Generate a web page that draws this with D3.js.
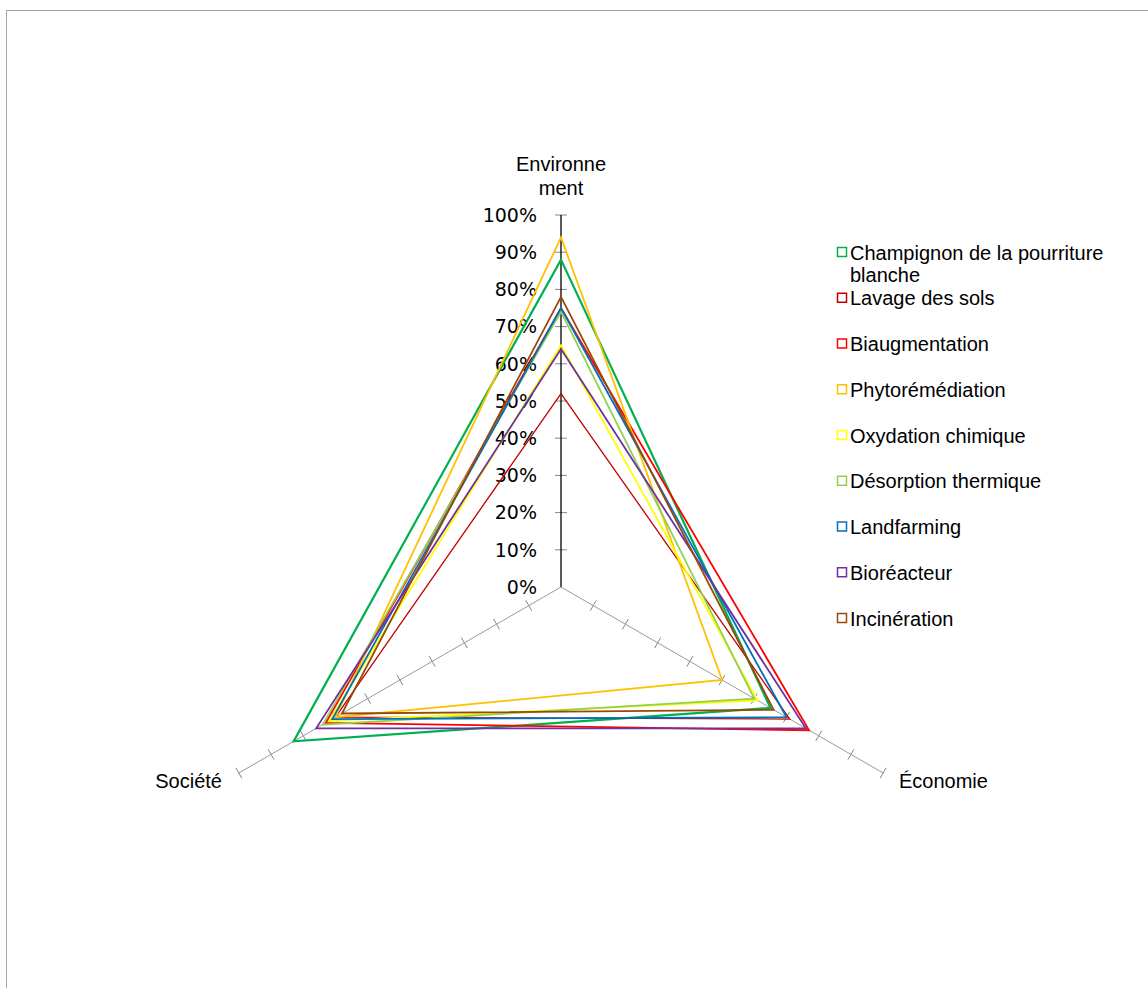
<!DOCTYPE html>
<html>
<head>
<meta charset="utf-8">
<script src="https://cdn.jsdelivr.net/npm/d3@7"></script>
<style>
body{margin:0;background:#fff;}
</style>
</head>
<body>
<div id="chart-area"></div>
<script>
let axesNames=["Environnement","Économie","Société"];
let seriesNames=["Champignon de la pourriture blanche","Lavage des sols","Biaugmentation","Phytorémédiation","Oxydation chimique","Désorption thermique","Landfarming","Bioréacteur","Incinération"];
let seriesColors=["#00B050","#C00000","#FF0000","#FFC000","#FFFF00","#92D050","#0070C0","#7030A0","#984807"];
// values per axis : Environnement, Économie, Société
let environnement=[0.88,0.52,0.75,0.94,0.65,0.74,0.75,0.64,0.78];
let economie=[0.65,0.71,0.77,0.50,0.61,0.60,0.70,0.76,0.66];
let societe=[0.83,0.70,0.73,0.70,0.72,0.74,0.71,0.76,0.68];
let tickValues=[0,0.1,0.2,0.3,0.4,0.5,0.6,0.7,0.8,0.9,1];

let width=1148,height=988;
let cx=561,cy=587,radius=372;

let svg=d3.select("#chart-area").append("svg")
	.attr("width",width)
	.attr("height",height);

svg.append("rect")
	.attr("x",6.5).attr("y",10.5)
	.attr("width",width+20).attr("height",height+20)
	.attr("fill","#fff")
	.attr("stroke","#a6a6a6");

let g=svg.append("g")
	.attr("transform","translate("+cx+","+cy+")");

//---------SCALES--------------
let r=d3.scaleLinear().domain([0,1]).range([0,radius]);
let angle=d3.scalePoint().domain(axesNames).range([0,2*Math.PI*2/3]);

function pt(axis,v){
	let a=angle(axis);
	return [Math.sin(a)*r(v),-Math.cos(a)*r(v)];
}

//---------AXES--------------
axesNames.forEach(function(axis,i){
	let end=pt(axis,1);
	let a=angle(axis);
	let ux=Math.cos(a),uy=Math.sin(a);// perpendicular
	let len=6;
	g.selectAll(".tick-"+i).data(tickValues.slice(1)).enter()
		.append("line")
		.attr("x1",d=>pt(axis,d)[0]-ux*len)
		.attr("y1",d=>pt(axis,d)[1]-uy*len)
		.attr("x2",d=>pt(axis,d)[0]+ux*len)
		.attr("y2",d=>pt(axis,d)[1]+uy*len)
		.attr("stroke","#868686")
		.attr("stroke-width",1);
	g.append("line")
		.attr("x1",0).attr("y1",0)
		.attr("x2",end[0]).attr("y2",end[1])
		.attr("stroke",i==0?"#000":"#9a9a9a")
		.attr("stroke-width",i==0?1.3:1);
});

//---------TICK LABELS--------------
g.selectAll(".tlabel").data(tickValues).enter()
	.append("text")
	.attr("x",-24)
	.attr("y",d=>-r(d))
	.attr("dy","0.36em")
	.attr("text-anchor","end")
	.attr("font-family","DejaVu Sans")
	.attr("font-size","19px")
	.attr("fill","#000")
	.text(d3.format(".0%"));

//---------SERIES--------------
let line=d3.lineRadial()
	.angle(d=>d.a)
	.radius(d=>r(d.v))
	.curve(d3.curveLinearClosed);

seriesNames.forEach(function(name,i){
	let pts=[
		{a:angle(axesNames[0]),v:environnement[i]},
		{a:angle(axesNames[1]),v:economie[i]},
		{a:angle(axesNames[2]),v:societe[i]}
	];
	g.append("path")
		.attr("d",line(pts))
		.attr("fill","none")
		.attr("stroke",seriesColors[i])
		.attr("stroke-width",i==1?1.3:(i==0?2.2:1.8))
		.attr("stroke-linejoin","miter");
});

//---------AXIS LABELS--------------
function wrapChars(text,maxW){
	text.each(function(){
		let t=d3.select(this);
		let str=t.text();
		let x=t.attr("x");
		t.text(null);
		let lines=[],cur="";
		let tmp=t.append("tspan");
		for(let c of str){
			tmp.text(cur+c);
			if(tmp.node().getComputedTextLength()>maxW&&cur){lines.push(cur);cur=c;}
			else cur+=c;
		}
		lines.push(cur);
		tmp.remove();
		lines.forEach(function(l,k){
			t.append("tspan").attr("x",x).attr("dy",k==0?0:"1.2em").text(l);
		});
	});
}

svg.append("text")
	.attr("x",cx).attr("y",171)
	.attr("text-anchor","middle")
	.attr("font-family","Liberation Sans, Arial")
	.attr("font-size","20px")
	.text(axesNames[0])
	.call(wrapChars,95);

svg.append("text")
	.attr("x",899).attr("y",788)
	.attr("font-family","Liberation Sans, Arial")
	.attr("font-size","20px")
	.text(axesNames[1]);

svg.append("text")
	.attr("x",222).attr("y",788)
	.attr("text-anchor","end")
	.attr("font-family","Liberation Sans, Arial")
	.attr("font-size","20px")
	.text(axesNames[2]);

//---------LEGEND--------------
function wrapWords(text,maxW){
	text.each(function(){
		let t=d3.select(this);
		let words=t.text().split(" ");
		let x=t.attr("x");
		t.text(null);
		let ts=t.append("tspan").attr("x",x).attr("dy",0);
		let cur=[];
		words.forEach(function(w){
			cur.push(w);
			ts.text(cur.join(" "));
			if(ts.node().getComputedTextLength()>maxW&&cur.length>1){
				cur.pop();
				ts.text(cur.join(" "));
				cur=[w];
				ts=t.append("tspan").attr("x",x).attr("dy","1.1em").text(w);
			}
		});
	});
}

let legend=svg.append("g")
	.attr("transform","translate(837,252.5)");

seriesNames.forEach(function(name,i){
	let row=legend.append("g")
		.attr("transform","translate(0,"+(i*45.75)+")");
	row.append("rect")
		.attr("x",0.5).attr("y",-5)
		.attr("width",9).attr("height",9)
		.attr("fill","#fff")
		.attr("stroke",seriesColors[i])
		.attr("stroke-width",1.5);
	row.append("text")
		.attr("x",13)
		.attr("y",7)
		.attr("font-family","Liberation Sans, Arial")
		.attr("font-size","20px")
		.attr("fill","#000")
		.text(name)
		.call(wrapWords,268);
});
</script>
</body>
</html>
